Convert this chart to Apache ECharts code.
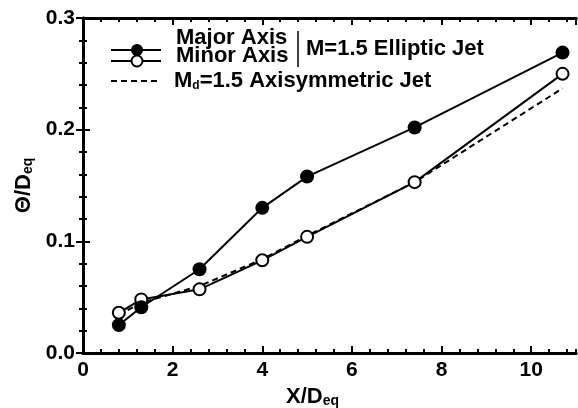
<!DOCTYPE html>
<html>
<head>
<meta charset="utf-8">
<script src="https://cdn.jsdelivr.net/npm/echarts@6/dist/echarts.min.js"></script>
<style>
  html, body { margin: 0; padding: 0; background: #fff; }
  #chart { width: 578px; height: 408px; }
</style>
</head>
<body>
<div id="chart"></div>
<script>
// Streamwise stations X/Deq
const xPos = [0.8, 1.3, 2.6, 4.0, 5.0, 7.4, 10.7];
// Momentum thickness Θ/Deq, M=1.5 elliptic jet
const majorAxis = [0.025, 0.041, 0.075, 0.130, 0.158, 0.202, 0.269];
const minorAxis = [0.036, 0.048, 0.057, 0.083, 0.104, 0.153, 0.250];
// Md=1.5 axisymmetric jet
const axisymmetric = [0.034, 0.045, 0.060, 0.084, 0.105, 0.153, 0.237];

const FONT = 'Liberation Sans';
const pairs = (ys) => xPos.map((x, i) => [x, ys[i]]);

const chart = echarts.init(document.getElementById('chart'), null, { renderer: 'canvas' });

const boxLine = { show: true, lineStyle: { color: '#000', width: 3 } };
const noLine = { show: false };

function xAx(position, interval, tickLen, showLabel) {
  return {
    type: 'value', position: position, min: 0, max: 11, interval: interval,
    axisLine: showLabel !== null ? boxLine : noLine,
    axisTick: { show: true, inside: true, length: tickLen, lineStyle: { color: '#000', width: 2 } },
    axisLabel: showLabel ? {
      show: true, color: '#000', fontFamily: FONT, fontWeight: 'bold', fontSize: 21,
      margin: 7, showMaxLabel: false
    } : { show: false },
    splitLine: { show: false }
  };
}

function yAx(position, showLabel) {
  return {
    type: 'value', position: position, min: 0, max: 0.3, interval: 0.1,
    axisLine: boxLine,
    axisTick: { show: true, inside: true, length: 7, lineStyle: { color: '#000', width: 2 } },
    minorTick: { show: true, splitNumber: 5, length: 4, lineStyle: { color: '#000', width: 2 } },
    axisLabel: showLabel ? {
      show: true, color: '#000', fontFamily: FONT, fontWeight: 'bold', fontSize: 21,
      margin: 8, formatter: (v) => v.toFixed(1)
    } : { show: false },
    splitLine: { show: false }
  };
}

const xBottom = xAx('bottom', 2, 7, true);
xBottom.name = '{a|X/D}{s|eq}';
xBottom.nameLocation = 'middle';
xBottom.nameGap = 20;
xBottom.nameTextStyle = {
  padding: [0, 34, 0, 0],
  rich: {
    a: { fontFamily: FONT, fontWeight: 'bold', fontSize: 22, color: '#000', lineHeight: 22, verticalAlign: 'top' },
    s: { fontFamily: FONT, fontWeight: 'bold', fontSize: 14, color: '#000', lineHeight: 14, verticalAlign: 'bottom' }
  }
};

const yLeft = yAx('left', true);
yLeft.name = '{a|Θ/D}{s|eq}';
yLeft.nameLocation = 'middle';
yLeft.nameRotate = 90;
yLeft.nameGap = 46;
yLeft.nameTextStyle = {
  rich: {
    a: { fontFamily: FONT, fontWeight: 'bold', fontSize: 22, color: '#000', lineHeight: 22, verticalAlign: 'top' },
    s: { fontFamily: FONT, fontWeight: 'bold', fontSize: 14, color: '#000', lineHeight: 14, verticalAlign: 'bottom' }
  }
};

// Legend block
const legTxt = { fontFamily: FONT, fontWeight: 'bold', fontSize: 22, fill: '#000' };
const lx0 = 111, lx1 = 161, lcx = 137;
const graphic = [
  { type: 'line', shape: { x1: lx0, y1: 50, x2: lx1, y2: 50 }, style: { stroke: '#000', lineWidth: 2 }, z: 10 },
  { type: 'line', shape: { x1: lx0, y1: 61, x2: lx1, y2: 61 }, style: { stroke: '#000', lineWidth: 2 }, z: 10 },
  { type: 'circle', shape: { cx: lcx, cy: 61, r: 5.5 }, style: { fill: '#fff', stroke: '#000', lineWidth: 2 }, z: 11 },
  { type: 'circle', shape: { cx: lcx, cy: 50, r: 6 }, style: { fill: '#000' }, z: 12 },
  { type: 'line', shape: { x1: lx0, y1: 81, x2: lx1, y2: 81 }, style: { stroke: '#000', lineWidth: 2, lineDash: [6, 4] }, z: 10 },
  { type: 'text', x: 176, y: 38, style: Object.assign({ text: 'Major Axis', verticalAlign: 'middle' }, legTxt), z: 10 },
  { type: 'text', x: 176, y: 56, style: Object.assign({ text: 'Minor Axis', verticalAlign: 'middle' }, legTxt), z: 10 },
  { type: 'line', shape: { x1: 298, y1: 31, x2: 298, y2: 67 }, style: { stroke: '#000', lineWidth: 1.5 }, z: 10 },
  { type: 'text', x: 306, y: 49, style: Object.assign({ text: 'M=1.5 Elliptic Jet', verticalAlign: 'middle' }, legTxt), z: 10 },
  {
    type: 'text', x: 174, y: 81, z: 10,
    style: {
      text: '{a|M}{s|d}{a|=1.5 Axisymmetric Jet}', verticalAlign: 'middle',
      rich: {
        a: { fontFamily: FONT, fontWeight: 'bold', fontSize: 22, fill: '#000', lineHeight: 22, verticalAlign: 'top' },
        s: { fontFamily: FONT, fontWeight: 'bold', fontSize: 12, fill: '#000', lineHeight: 12, verticalAlign: 'bottom' }
      }
    }
  }
];

chart.setOption({
  animation: false,
  backgroundColor: '#fff',
  grid: { left: 83, right: 2, top: 18, bottom: 55, containLabel: false, outerBoundsMode: 'none' },
  xAxis: [
    xBottom,
    xAx('bottom', 0.4, 4, false),
    xAx('top', 2, 7, false),
    xAx('top', 0.4, 4, false)
  ],
  yAxis: [yLeft, yAx('right', false)],
  graphic: graphic,
  series: [
    {
      name: 'Md=1.5 Axisymmetric Jet', type: 'line', xAxisIndex: 0, yAxisIndex: 0,
      data: pairs(axisymmetric), symbol: 'none', z: 2,
      lineStyle: { color: '#000', width: 2, type: [6, 4] }
    },
    {
      name: 'Minor Axis', type: 'line', xAxisIndex: 0, yAxisIndex: 0,
      data: pairs(minorAxis), symbol: 'circle', symbolSize: 12, z: 3,
      lineStyle: { color: '#000', width: 2 },
      itemStyle: { color: '#fff', borderColor: '#000', borderWidth: 2 }
    },
    {
      name: 'Major Axis', type: 'line', xAxisIndex: 0, yAxisIndex: 0,
      data: pairs(majorAxis), symbol: 'circle', symbolSize: 14, z: 4,
      lineStyle: { color: '#000', width: 2 },
      itemStyle: { color: '#000', borderColor: '#000', borderWidth: 0 }
    }
  ]
});
</script>
</body>
</html>
